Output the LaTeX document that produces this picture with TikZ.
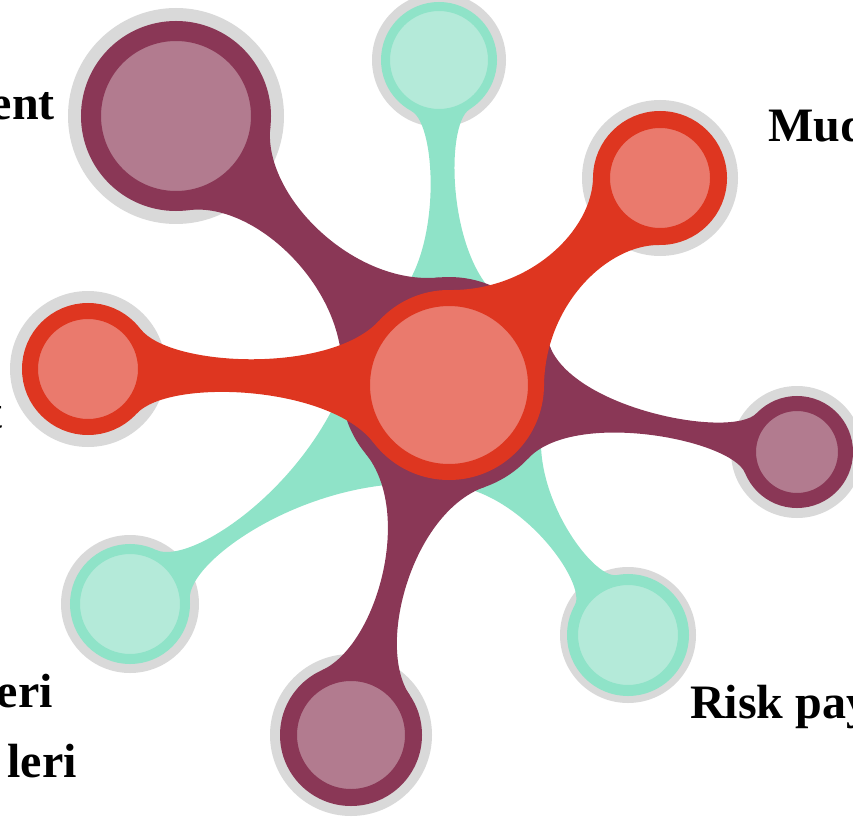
\documentclass[tikz,border=0pt]{standalone}
\usepackage{fontspec}
\setmainfont{Liberation Serif}
\usetikzlibrary{calc}

\definecolor{halogray}{HTML}{D9D9D9}
\definecolor{mint}{HTML}{8FE3C8}
\definecolor{mintlt}{HTML}{B4EAD9}
\definecolor{plum}{HTML}{8A3756}
\definecolor{plumlt}{HTML}{B27B8F}
\definecolor{redring}{HTML}{DE3620}
\definecolor{redlt}{HTML}{EA7A6D}

% neck from hub #1 (radius #2) to satellite #3 (radius #4),
% attach angles #5/#6, narrowest half width #7, colour #8
\newcommand{\neck}[8]{%
  \pgfmathsetmacro\nw{(8*#7-#2*sin(#5)-#4*sin(#6))/6}%
  \pgfmathsetmacro\nda{#2*cos(#5)+(#2*sin(#5)-\nw)*tan(#5)}%
  \pgfmathsetmacro\ndb{#4*cos(#6)+(#4*sin(#6)-\nw)*tan(#6)}%
  \fill[#8] ($(#1)!#2pt!#5:(#3)$)
    .. controls ($(#1)!\nda pt!(#3)!\nw pt!90:(#3)$)
       and ($(#3)!\ndb pt!(#1)!\nw pt!-90:(#1)$) .. ($(#3)!#4pt!-#6:(#1)$)
    -- ($(#3)!#4pt!#6:(#1)$)
    .. controls ($(#3)!\ndb pt!(#1)!\nw pt!90:(#1)$)
       and ($(#1)!\nda pt!(#3)!\nw pt!-90:(#3)$) .. ($(#1)!#2pt!-#5:(#3)$)
    -- cycle;}

\begin{document}
\begin{tikzpicture}
  [x=1pt,y=1pt,
   disc/.style={circle,inner sep=0pt,outer sep=0pt},
   lbl/.style={inner sep=0pt,font=\bfseries\fontsize{48}{48}\selectfont}]
  \useasboundingbox (0,0) rectangle (853,-818);
  % centres
  \coordinate (hub) at (449,-385);
  \coordinate (T)  at (439,-60);
  \coordinate (BL) at (130,-604);
  \coordinate (BR) at (628,-635);
  \coordinate (TL) at (176,-116);
  \coordinate (R)  at (797,-452);
  \coordinate (B)  at (351,-735);
  \coordinate (L)  at (88,-369);
  \coordinate (TR) at (660,-178);
  % grey halos
  \foreach \c/\r in {T/67,BL/69,BR/68,TL/108,R/66,B/81,L/78,TR/78}
    \fill[halogray] (\c) circle (\r);

  % mint
  \node[disc,fill=mint,minimum size=200pt] (mhub) at (hub) {};
  \foreach \s/\rs/\a/\b/\m in {T/58/35/30/13,BL/60/50/30/10,BR/61/38/25/13}
    {\neck{hub}{100}{\s}{\rs}{\a}{\b}{\m}{mint}}
  \node[disc,draw=mint,fill=mintlt,line width=9pt,minimum size=107pt] (t) at (T) {};
  \node[disc,draw=mint,fill=mintlt,line width=10pt,minimum size=110pt] (bl) at (BL) {};
  \node[disc,draw=mint,fill=mintlt,line width=11pt,minimum size=111pt] (br) at (BR) {};

  % plum
  \node[disc,fill=plum,minimum size=216pt] (phub) at (hub) {};
  \foreach \s/\rs/\a/\b/\m in {TL/95/40/38/19,R/56/32/33/11,B/71/35/40/13}
    {\neck{hub}{108}{\s}{\rs}{\a}{\b}{\m}{plum}}
  \node[disc,draw=plum,fill=plumlt,line width=20pt,minimum size=170pt] (tl) at (TL) {};
  \node[disc,draw=plum,fill=plumlt,line width=15pt,minimum size=97pt] (r) at (R) {};
  \node[disc,draw=plum,fill=plumlt,line width=17pt,minimum size=125pt] (b) at (B) {};

  % red
  \foreach \s/\rs/\a/\b/\m in {L/66/40/40/17,TR/67/45/45/22}
    {\neck{hub}{95}{\s}{\rs}{\a}{\b}{\m}{redring}}
  \node[disc,draw=redring,fill=redlt,line width=16pt,minimum size=116pt] (l) at (L) {};
  \node[disc,draw=redring,fill=redlt,line width=17pt,minimum size=117pt] (tr) at (TR) {};
  \node[disc,draw=redring,fill=redlt,line width=16pt,minimum size=174pt] (centre) at (hub) {};

  % labels
  \node[lbl,anchor=base east] (ent) at (55,-120) {ent};
  \node[lbl,anchor=base west] (mud) at (768,-142) {Mud};
  \node[lbl,anchor=base east] (tt) at (3,-428) {t};
  \node[lbl,anchor=base east] (eri) at (53,-707) {eri};
  \node[lbl,anchor=base east] (leri) at (77,-777) {leri};
  \node[lbl,anchor=base west] (risk) at (690,-718) {Risk pay};
\end{tikzpicture}
\end{document}
